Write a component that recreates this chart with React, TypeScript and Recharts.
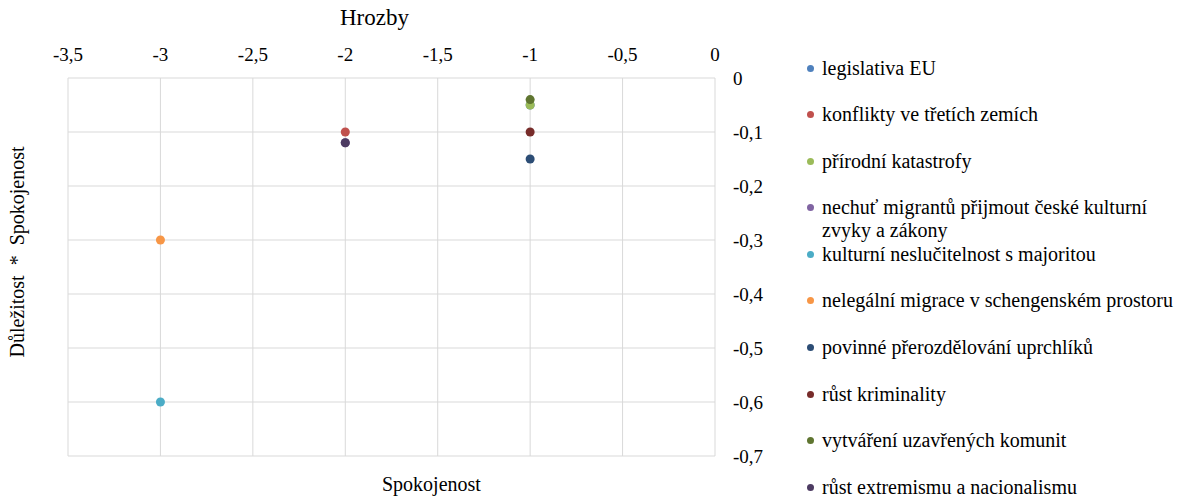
import React from 'react';
import { ScatterChart, Scatter, XAxis, YAxis, ZAxis, CartesianGrid } from 'recharts';

const seriesNames = [
  'legislativa EU',
  'konflikty ve třetích zemích',
  'přírodní katastrofy',
  'nechuť migrantů přijmout české kulturní zvyky a zákony',
  'kulturní neslučitelnost s majoritou',
  'nelegální migrace v schengenském prostoru',
  'povinné přerozdělování uprchlíků',
  'růst kriminality',
  'vytváření uzavřených komunit',
  'růst extremismu a nacionalismu',
];
const seriesColors = [
  '#4F81BD', '#C0504D', '#9BBB59', '#8064A2', '#4BACC6',
  '#F79646', '#2C4D75', '#772C2A', '#5F7530', '#4D3B62',
];
const hrozbyValues = [-1, -2, -1, -2, -3, -3, -1, -1, -1, -2];
const importanceValues = [-0.05, -0.1, -0.05, -0.12, -0.6, -0.3, -0.15, -0.1, -0.04, -0.12];
const xTicks = [-3.5, -3, -2.5, -2, -1.5, -1, -0.5, 0];
const yTicks = [0, -0.1, -0.2, -0.3, -0.4, -0.5, -0.6, -0.7];

const FONT = '"Liberation Serif", "Times New Roman", serif';
const fmt = (v: number) => String(v).replace('.', ',');

export default function App() {
  return (
    <div style={{ position: 'absolute', left: 0, top: 0, width: 1189, height: 497, background: '#fff', fontFamily: FONT }}>
      <ScatterChart width={1189} height={497} margin={{ top: 48, right: 414, bottom: 41, left: 68 }} style={{ fontFamily: FONT }}>
        <CartesianGrid stroke="#D9D9D9" strokeWidth={1} />
        <XAxis
          type="number"
          dataKey="x"
          orientation="top"
          height={30}
          domain={[-3.5, 0]}
          ticks={xTicks}
          tickFormatter={fmt}
          axisLine={false}
          tickLine={false}
          tickSize={6}
          tickMargin={11}
          tick={{ fill: '#000', fontSize: 19, fontFamily: FONT }}
          allowDataOverflow
        />
        <YAxis
          type="number"
          dataKey="y"
          orientation="right"
          width={60}
          domain={[-0.7, 0]}
          ticks={yTicks}
          tickFormatter={fmt}
          axisLine={false}
          tickLine={false}
          tickSize={6}
          tickMargin={12}
          tick={{ fill: '#000', fontSize: 19, fontFamily: FONT, textAnchor: 'start' }}
          allowDataOverflow
        />
        <ZAxis range={[70, 70]} />
        {seriesNames.map((name, i) => (
          <Scatter
            key={name}
            name={name}
            data={[{ x: hrozbyValues[i], y: importanceValues[i] }]}
            fill={seriesColors[i]}
            isAnimationActive={false}
          />
        ))}
      </ScatterChart>
      <div style={{ position: 'absolute', left: 340, top: 4, fontSize: 23, color: '#000', lineHeight: '28px', whiteSpace: 'nowrap' }}>Hrozby</div>
      <div style={{ position: 'absolute', left: 382, top: 472, fontSize: 20, color: '#000', lineHeight: '24px', whiteSpace: 'nowrap' }}>Spokojenost</div>
      <div
        style={{
          position: 'absolute', left: 17, top: 252, fontSize: 20, color: '#000', whiteSpace: 'pre',
          transform: 'translate(-50%, -50%) rotate(-90deg)', lineHeight: '24px',
        }}
      >
        {'Důležitost  *  Spokojenost'}
      </div>
      <div style={{ position: 'absolute', left: 807, top: 56.5 }}>
        {seriesNames.map((name, i) => (
          <div key={name} style={{ display: 'flex', alignItems: 'flex-start', height: 46.6 }}>
            <div style={{ width: 7, height: 7, borderRadius: '50%', background: seriesColors[i], marginTop: 8, marginRight: 8, flex: 'none' }} />
            <div style={{ width: 358, fontSize: 20, lineHeight: '23px', color: '#000' }}>{name}</div>
          </div>
        ))}
      </div>
    </div>
  );
}
